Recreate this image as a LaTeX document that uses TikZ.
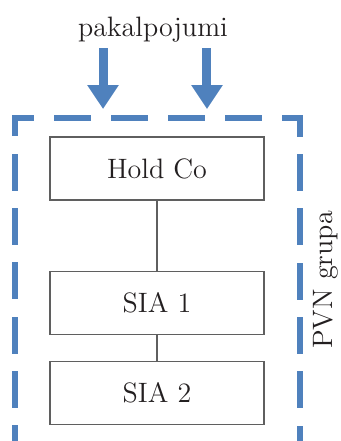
\documentclass[tikz,border=0pt]{standalone}
\usepackage{tikz}
\usetikzlibrary{arrows.meta}
\usetikzlibrary{calc}

\definecolor{pvnblue}{RGB}{79,129,189}
\definecolor{boxgray}{RGB}{95,95,95}
\definecolor{txt}{RGB}{35,31,32}

\tikzset{
  co/.style={draw=boxgray, line width=.7pt, minimum width=3.57cm, minimum height=1.05cm,
    text=txt, font=\fontsize{13.3}{16}\selectfont},
  lbl/.style={text=txt, font=\fontsize{13.3}{16}\selectfont, inner sep=0pt},
  grp/.style={pvnblue, line width=1mm, line cap=rect, dash phase=2.58mm},
  svc/.style={pvnblue, line width=1.5mm, -{Triangle[width=5mm,length=4mm]}}
}

\begin{document}
\begin{tikzpicture}
\useasboundingbox (0,0) rectangle (5.683,7.35);
\coordinate (bl) at (.25,-.05);
\coordinate (tl) at (.25,5.383);
\coordinate (tr) at (5,5.383);
\coordinate (br) at (5,-.05);
\foreach \a/\b/\g in {bl/tl/3.89mm, tl/tr/4.33mm, tr/br/3.89mm, br/bl/4.33mm}
  \draw[grp, dash pattern=on 5.17mm off \g] (\a) -- (\b);
\node[co] (hold) at (2.617,4.54) {Hold Co};
\node[co] (sia1) at (2.617,2.3) {SIA 1};
\node[co] (sia2) at (2.617,.8) {SIA 2};
\draw[boxgray, line width=.5pt] (hold) -- (sia1) -- (sia2);
\node[lbl, anchor=base] (pak) at (2.55,6.75) {pakalpojumi};
\node[lbl, rotate=90, anchor=base] (pvn) at (5.55,2.683) {PVN grupa};
\foreach \x [count=\i] in {1.717,3.45}{
  \coordinate (s\i) at (\x,6.55);
  \coordinate (e\i) at (\x,5.533);
  \draw[svc] (s\i) -- (e\i);
}
\end{tikzpicture}
\end{document}
